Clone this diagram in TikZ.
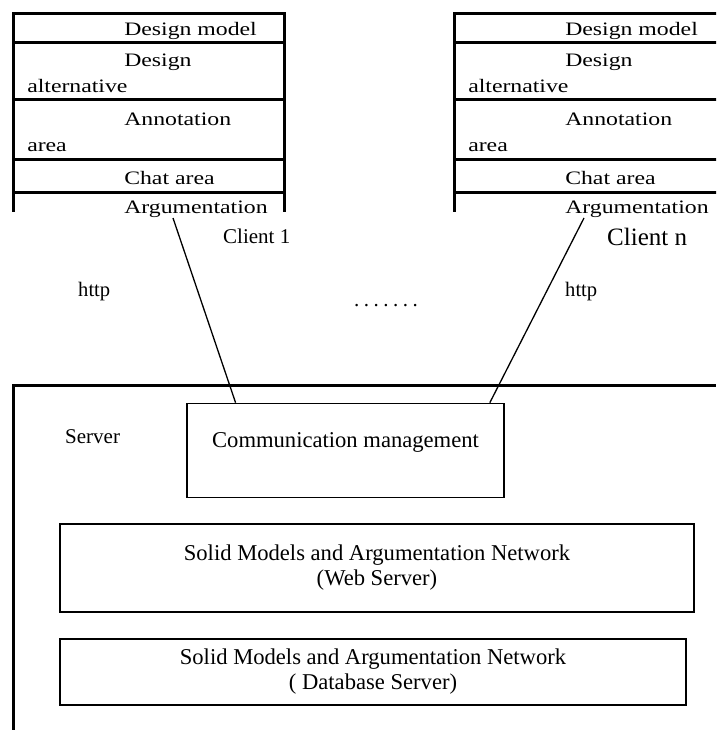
\documentclass[tikz,border=0pt]{standalone}
\usepackage{fontspec}
\setmainfont{Liberation Serif}
\usetikzlibrary{calc}
\tikzset{frame/.style={line width=3pt},
	box/.style={draw,line width=1.6pt,align=center,font=\fontsize{22.6}{25}\selectfont},
	cell/.style={anchor=base west,xscale=1.25,font=\fontsize{19}{21}\selectfont},
	tag/.style={anchor=base west},
	link/.style={line width=1.3pt}}

\begin{document}
\begin{tikzpicture}
  [x=1pt,y=-1pt,every node/.style={inner sep=0pt}]
  \useasboundingbox (0,0) rectangle (716,730);
  \clip (0,0) rectangle (716,730);
  % the two client panels
  \foreach \dx/\c/\tx in {0/1/173,441/n/143}{
    \begin{scope}[xshift=\dx]
      \draw[frame] (13.5,211.7) -- (13.5,13.3) -- (284,13.3) -- (284,211.7);
      \foreach \y in {42.7,100,160,192.7}
        \draw[frame] (13.5,\y) -- (284,\y);
      \node[cell] (model\c) at (124,36) {Design model};
      \node[cell] (alt\c) at (124,67) {Design};
      \node[cell] (alt\c b) at (27,93) {alternative};
      \node[cell] (note\c) at (124,126) {Annotation};
      \node[cell] (note\c b) at (27,152) {area};
      \node[cell] (chat\c) at (124,185) {Chat area};
      \node[cell] (arg\c) at (124,213) {Argumentation};
      \coordinate (top\c) at (\tx,218);
    \end{scope}
  }
  \node[tag,font=\fontsize{21}{24}\selectfont] (client1) at (223,243) {Client 1};
  \node[tag,font=\fontsize{25}{28}\selectfont] (clientn) at (607,245) {Client n};
  \node[tag,font=\fontsize{20.6}{23}\selectfont] (http1) at (78,296) {http};
  \node[tag,font=\fontsize{20.6}{23}\selectfont] (httpn) at (565,296) {http};
  \node[tag,font=\fontsize{21}{24}\selectfont] (dots) at (354,306)
    {.\kern4.5pt.\kern4.5pt.\kern4.5pt.\kern4.5pt.\kern4.5pt.\kern4.5pt.};
  % server
  \draw[frame] (13.5,730) -- (13.5,385) -- (716,385);
  \node[tag,font=\fontsize{21}{24}\selectfont] (server) at (65,443) {Server};
  \node[box,minimum width=317pt,inner ysep=28pt,text height=16pt,text depth=22pt]
    (comm) at (345.5,450.5) {Communication management};
  \node[box,minimum width=634pt,minimum height=88pt] (web) at (377,568)
    {Solid Models and Argumentation Network\\(Web Server)};
  \node[box,minimum width=626pt,minimum height=66pt] (db) at (373,672)
    {Solid Models and Argumentation Network\\( Database Server)};
  \coordinate (in1) at ($(comm.north west)!0.155!(comm.north east)$);
  \coordinate (inn) at ($(comm.north west)!0.953!(comm.north east)$);
  \foreach \from/\to in {top1/in1,topn/inn}
    \draw[link] (\from) -- (\to);
\end{tikzpicture}
\end{document}
